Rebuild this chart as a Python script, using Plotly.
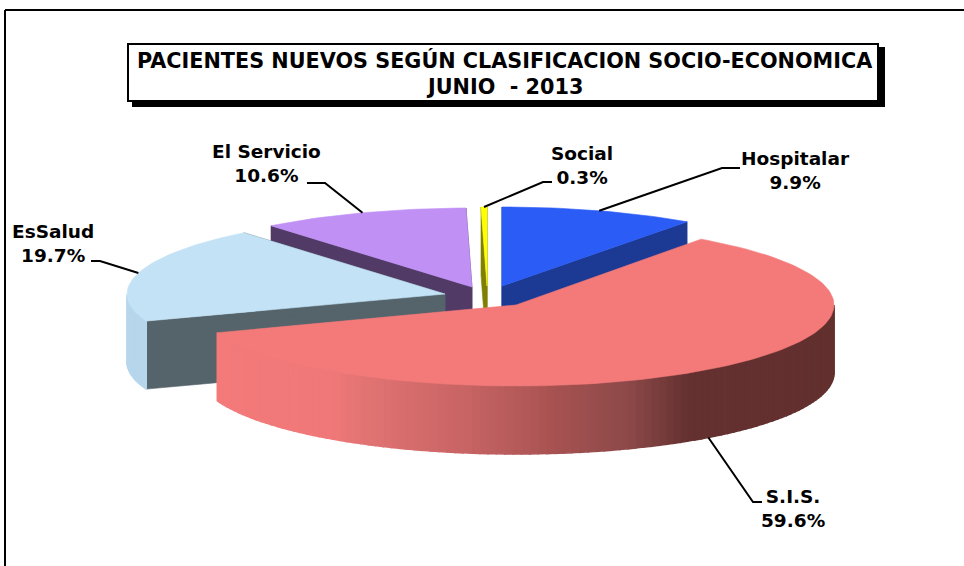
import math
import plotly.graph_objects as go

# --- data (clockwise from 12 o'clock) ---
categories = ["Hospitalar", "S.I.S.", "EsSalud", "El Servicio", "Social"]
values = [9.9, 59.6, 19.7, 10.6, 0.3]
value_labels = ["9.9%", "59.6%", "19.7%", "10.6%", "0.3%"]
title_lines = ["PACIENTES NUEVOS SEGÚN CLASIFICACION SOCIO-ECONOMICA", "JUNIO  - 2013"]

# --- styling / geometry ---
top_colors = {"Hospitalar": "#2b5cf5", "Social": "#ffff00", "El Servicio": "#c090f5",
              "EsSalud": "#c3e2f5", "S.I.S.": "#f47a7a"}
rim_colors = {"Hospitalar": "#1c3a94", "Social": "#808000", "El Servicio": "#523a66",
              "EsSalud": "#b6d6ec", "S.I.S.": None}
cut_colors = {"Hospitalar": "#1c3a94", "Social": "#808000", "El Servicio": "#523a66",
              "EsSalud": "#55636b", "S.I.S.": None}
centers = {"Hospitalar": (502, 286), "Social": (487, 286), "El Servicio": (472, 287),
           "EsSalud": (445, 294), "S.I.S.": (516, 305)}
draw_order = ["Hospitalar", "Social", "El Servicio", "EsSalud", "S.I.S."]
RX, RY, DEPTH = 318, 79, 68

gradient = [(215, (244, 122, 122)), (330, (240, 120, 120)), (370, (224, 114, 114)),
            (466, (200, 100, 100)), (552, (168, 82, 82)), (630, (140, 72, 72)),
            (688, (100, 48, 48)), (840, (98, 48, 46))]


def grad(x):
    for (x0, c0), (x1, c1) in zip(gradient, gradient[1:]):
        if x <= x1:
            t = max(0, (x - x0) / (x1 - x0))
            return "rgb(%d,%d,%d)" % tuple(round(a + (b - a) * t) for a, b in zip(c0, c1))
    return "rgb(98,48,46)"


def rim(name, deg, drop=0):
    cx, cy = centers[name]
    a = math.radians(deg)
    ry = RY + 2 if name == "S.I.S." else RY
    return cx + RX * math.sin(a), cy - ry * math.cos(a) + drop


def poly(fig, xs, ys, color, name=None, width=0.6):
    fig.add_trace(go.Scatter(x=xs, y=ys, mode="lines", fill="toself", fillcolor=color,
                             line=dict(color=color, width=width), hoverinfo="skip",
                             showlegend=False, name=name))


fig = go.Figure()
total = sum(values)
angles, acc = {}, 0.0
for n, v in zip(categories, values):
    angles[n] = (acc, acc + v / total * 360)
    acc += v / total * 360

for name in draw_order:
    a0, a1 = angles[name]
    cx, cy = centers[name]
    steps = max(4, int((a1 - a0) / 1.5))
    degs = [a0 + (a1 - a0) * k / steps for k in range(steps + 1)]
    # cut faces (the large slice hides its own)
    if cut_colors[name]:
        for d in (a0, a1):
            x, y = rim(name, d)
            xb, yb = rim(name, d, DEPTH)
            poly(fig, [cx, x, xb, cx, cx], [cy, y, yb, cy + DEPTH, cy], cut_colors[name])
    # outer wall: only the part of the rim that faces the viewer
    for d0, d1 in zip(degs, degs[1:]):
        m = (d0 + d1) / 2
        if not 90 <= m <= 270:
            continue
        x0, y0 = rim(name, d0)
        x1, y1 = rim(name, d1)
        xb1, yb1 = rim(name, d1, DEPTH)
        xb0, yb0 = rim(name, d0, DEPTH)
        col = rim_colors[name] or grad((x0 + x1) / 2)
        poly(fig, [x0, x1, xb1, xb0, x0], [y0, y1, yb1, yb0, y0], col, width=1.5)
    # top
    pts = [rim(name, d) for d in degs]
    poly(fig, [cx] + [p[0] for p in pts] + [cx], [cy] + [p[1] for p in pts] + [cy], top_colors[name], name)

# labels with leader lines
label_pos = {"Hospitalar": (795, 170), "Social": (582, 165), "El Servicio": (266, 163),
             "EsSalud": (53, 243), "S.I.S.": (793, 508)}
elbows = {"Hospitalar": [(722, 168), (740, 168)], "Social": [(543, 182), (552, 182)],
          "El Servicio": [(325, 183), (307, 183)], "EsSalud": [(100, 261), (91, 261)],
          "S.I.S.": [(753, 502), (762, 502)]}
for name, lab in zip(categories, value_labels):
    mid = sum(angles[name]) / 2
    sx, sy = rim(name, mid, DEPTH if name == "S.I.S." else 0)
    line = [(sx, sy)] + elbows[name]
    fig.add_trace(go.Scatter(x=[p[0] for p in line], y=[p[1] for p in line], mode="lines",
                             line=dict(color="black", width=2), hoverinfo="skip", showlegend=False))
    lx, ly = label_pos[name]
    fig.add_annotation(x=lx, y=ly, text=f"<b>{name}<br>{lab}</b>", showarrow=False,
                       font=dict(family="DejaVu Sans", size=18.5, color="black"),
                       xanchor="center", yanchor="middle", align="center")

shapes = [
    dict(type="line", x0=5, x1=5, y0=10, y1=566, line=dict(color="black", width=2)),
    dict(type="line", x0=5, x1=964, y0=10, y1=10, line=dict(color="black", width=2)),
    dict(type="rect", x0=132, x1=885, y0=47, y1=107, fillcolor="black", line=dict(width=0)),
    dict(type="rect", x0=128, x1=878, y0=44, y1=101, fillcolor="white", line=dict(color="black", width=2)),
]
for line_text, y in zip(title_lines, (60, 87)):
    fig.add_annotation(x=504.5, y=y, text=f"<b>{line_text}</b>", showarrow=False,
                       font=dict(family="DejaVu Sans", size=20.75, color="black"),
                       xanchor="center", yanchor="middle", align="center")

fig.update_layout(width=964, height=566, margin=dict(l=0, r=0, t=0, b=0), paper_bgcolor="white",
                  plot_bgcolor="white", shapes=shapes, showlegend=False,
                  xaxis=dict(range=[0, 964], visible=False, fixedrange=True),
                  yaxis=dict(range=[566, 0], visible=False, fixedrange=True))
fig.write_html("out.html", config={"displayModeBar": False},
               post_script="document.body.style.margin='0';")
